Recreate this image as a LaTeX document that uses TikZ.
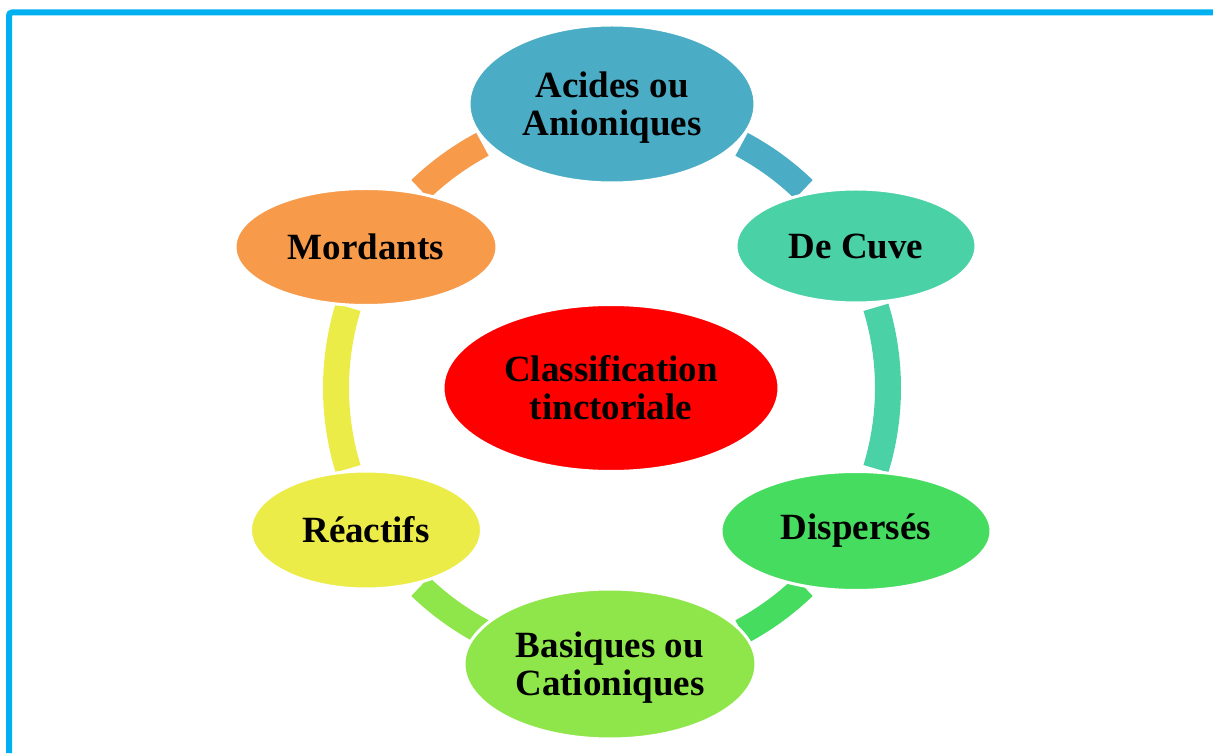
\documentclass[tikz,border=0pt]{standalone}
\usepackage{fontspec}
\setmainfont{Liberation Serif}
\usetikzlibrary{shapes.geometric}
\definecolor{frameblue}{HTML}{00B0F0}
\definecolor{cblue}{HTML}{4BACC6}
\definecolor{cteal}{HTML}{4BD1A6}
\definecolor{cgreen}{HTML}{46DC5F}
\definecolor{clgreen}{HTML}{8EE64B}
\definecolor{cyellow}{HTML}{ECEC48}
\definecolor{corange}{HTML}{F79A4A}
\definecolor{cred}{HTML}{FF0000}
\tikzset{
  bubble/.style={ellipse, inner sep=0pt, draw=white, line width=3pt, align=center,
    font=\fontsize{37}{38}\selectfont\bfseries, text=black},
  ring/.style={line width=26pt, line cap=butt}
}
\begin{document}
\begin{tikzpicture}[x=1pt,y=1pt]
\useasboundingbox (0,0) rectangle (1213,753);
% frame
\draw[frameblue, line width=6pt, rounded corners=3pt] (9,0) -- (9,740.5) -- (1213,740.5);
\coordinate (c) at (612,365);
% arcs
\draw[ring, cblue]   (c) ++(62:276)   arc[start angle=62,   end angle=46,   radius=276];
\draw[ring, cteal]   (c) ++(17:276)   arc[start angle=17,   end angle=-17,  radius=276];
\draw[ring, cgreen]  (c) ++(-46:276)  arc[start angle=-46,  end angle=-62,  radius=276];
\draw[ring, clgreen] (c) ++(-118:276) arc[start angle=-118, end angle=-134, radius=276];
\draw[ring, cyellow] (c) ++(197:276)  arc[start angle=197,  end angle=163,  radius=276];
\draw[ring, corange] (c) ++(134:276)  arc[start angle=134,  end angle=118,  radius=276];
% nodes
\node[bubble, fill=cblue, minimum width=286pt, minimum height=158pt, text depth=0pt] (acides) at (612,649) {Acides ou\\Anioniques};
\node[bubble, fill=cteal, minimum width=240pt, minimum height=114pt] (cuve) at (856,507) {De Cuve};
\node[bubble, fill=cgreen, minimum width=270pt, minimum height=119pt] (disp) at (856,222) {Dispersés};
\node[bubble, fill=clgreen, minimum width=292pt, minimum height=150pt, text depth=0pt] (bas) at (610,89) {Basiques ou\\Cationiques};
\node[bubble, fill=cyellow, minimum width=231pt, minimum height=118pt] (reac) at (366,223) {Réactifs};
\node[bubble, fill=corange, minimum width=262pt, minimum height=117pt] (mord) at (366,506) {Mordants};
\node[bubble, fill=cred, minimum width=336pt, minimum height=167pt] (center) at (611,365) {Classification\\tinctoriale};
\end{tikzpicture}
\end{document}
